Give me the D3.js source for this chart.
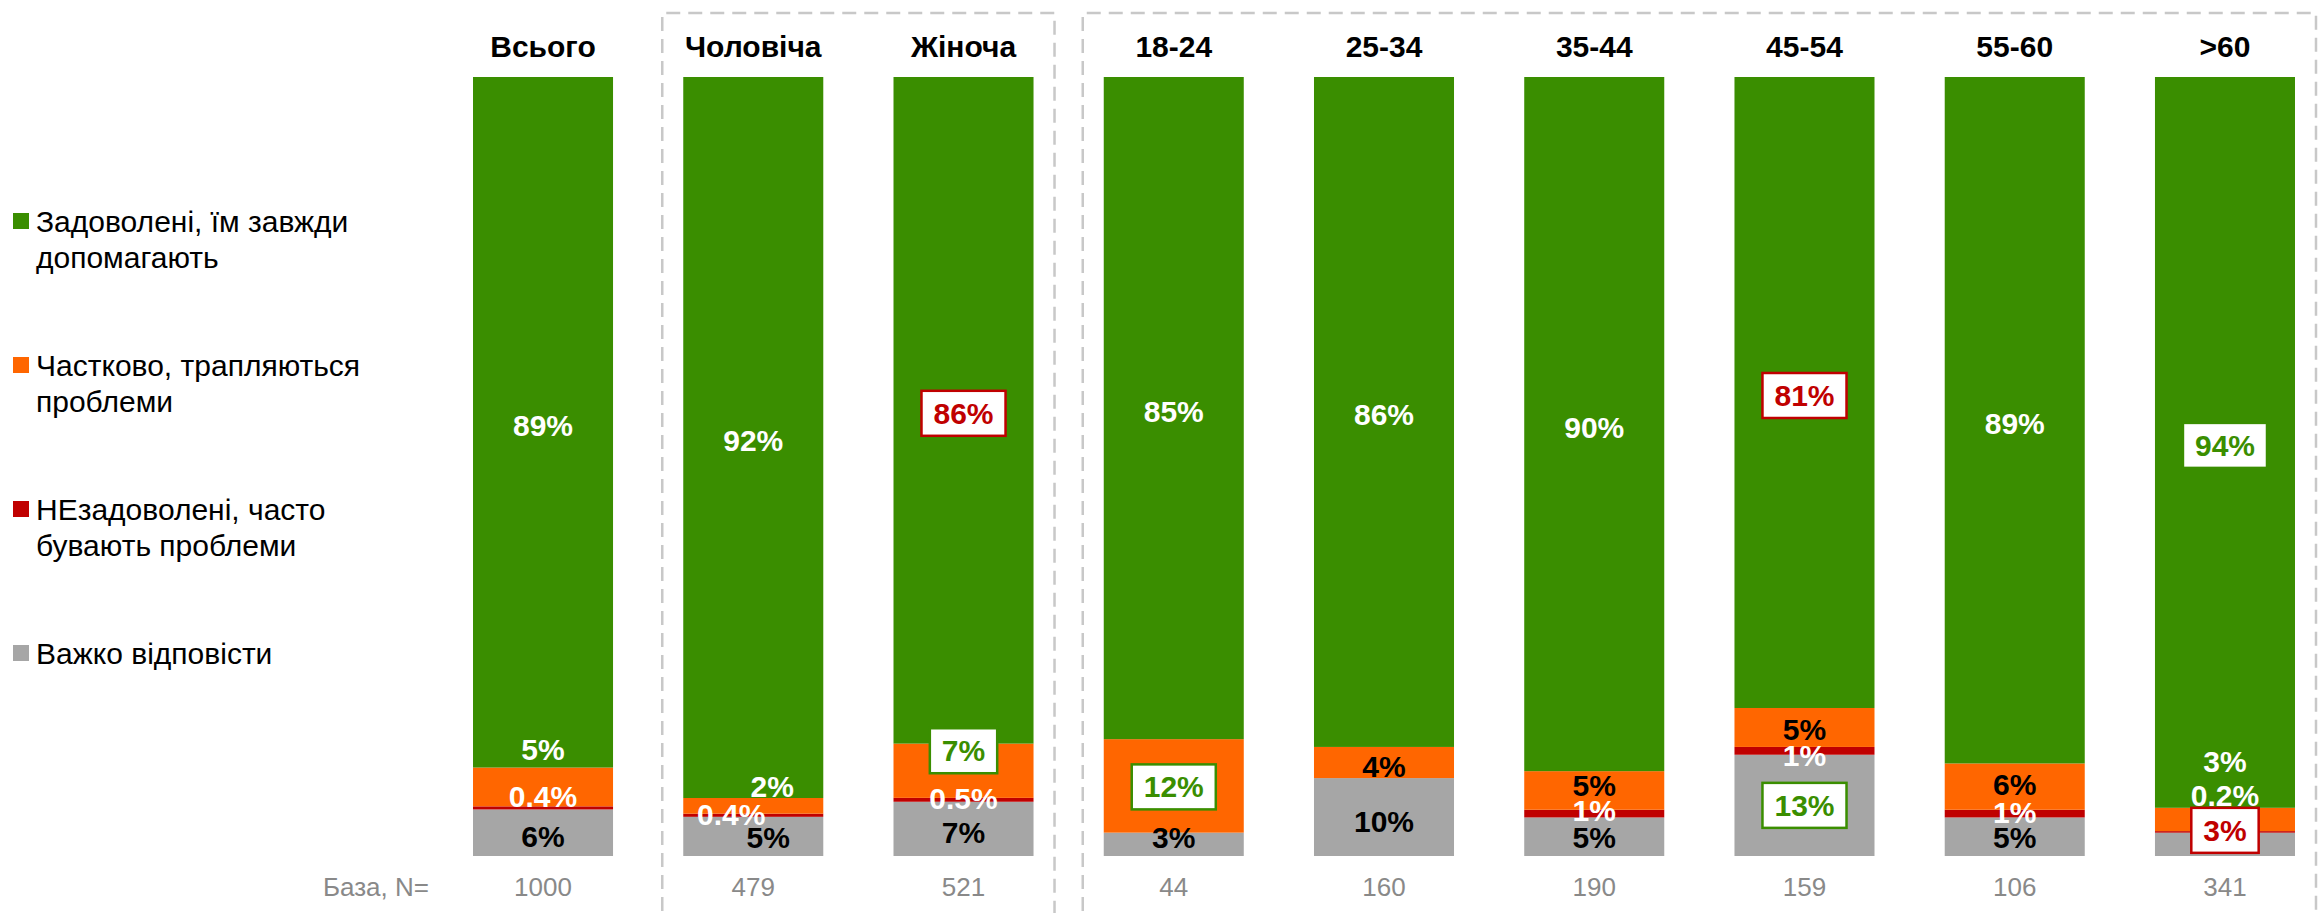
<!DOCTYPE html>
<html>
<head>
<meta charset="utf-8">
<script src="https://cdn.jsdelivr.net/npm/d3@7"></script>
<style>
	body{margin:0;background:#fff;overflow:hidden}
	text{font-family:"Liberation Sans",Arial,Helvetica,sans-serif}
</style>
</head>
<body>
<div id="chart"></div>
<script>
// categories and base sizes
var categories=["Всього","Чоловіча","Жіноча","18-24","25-34","35-44","45-54","55-60",">60"]
var baseN=[1000,479,521,44,160,190,159,106,341]

// series values, %
var satisfied=[89,92,86,85,86,90,81,89,94]
var partly=[5,2,7,12,4,5,5,6,3]
var dissatisfied=[0.4,0.4,0.5,0,0,1,1,1,0.2]
var hardToSay=[6,5,7,3,10,5,13,5,3]

// significant differences vs total: 1 higher, -1 lower
var sigSatisfied=[0,0,-1,0,0,0,-1,0,1]
var sigPartly=[0,0,1,1,0,0,0,0,0]
var sigDissatisfied=[0,0,0,0,0,0,0,0,0]
var sigHard=[0,0,0,0,0,0,1,0,-1]

var legendLabels=[["Задоволені, їм завжди","допомагають"],["Частково, трапляються","проблеми"],["НЕзадоволені, часто","бувають проблеми"],["Важко відповісти"]]
var baseTitle="База, N="

// groups framed with dashed boxes (index ranges)
var groups=[[1,2],[3,8]]

// layout
var width=2323, height=913
var keys=["hard","dis","part","sat"]
var colors={sat:"#3A8E00",part:"#FF6600",dis:"#C00000",hard:"#A6A6A6"}
var sigColor={"1":"#3A8E00","-1":"#C00000"}

// manual nudges of the data labels (dx,dy), like the hand-placed labels of the original
var labelShift={
	sat:[[0,3],[0,3],[0,3],[0,3],[0,3],[0,3],[0,3],[0,3],[0,3]],
	part:[[0,-37],[19,-19],[0,-20],[0,1],[0,4],[0,-5],[0,2],[0,-2],[0,-58]],
	dis:[[0,-11],[-22,-1],[0,-1],[0,0],[0,0],[0,-3],[0,5],[0,-1],[0,-36]],
	hard:[[0,4],[15,1],[0,4],[0,-7],[0,4],[0,1],[0,0],[0,1],[0,-14]]
}

var table=categories.map(function(c,i){
	return {cat:c,sat:satisfied[i],part:partly[i],dis:dissatisfied[i],hard:hardToSay[i],
		sig:{sat:sigSatisfied[i],part:sigPartly[i],dis:sigDissatisfied[i],hard:sigHard[i]}}
})

var series=d3.stack().keys(keys).offset(d3.stackOffsetExpand)(table)

var xScale=d3.scaleBand()
	.domain(categories)
	.range([437.9,2330.1])
	.paddingInner(0.334)
	.paddingOuter(0.167)

var yScale=d3.scaleLinear()
	.domain([0,1])
	.range([856,77])

var svg=d3.select("#chart").append("svg")
	.attr("width",width)
	.attr("height",height)

// dashed frames round the groups
groups.forEach(function(g){
	var x0=xScale(categories[g[0]])-21
	var x1=xScale(categories[g[1]])+xScale.bandwidth()+21
	svg.append("path")
		.attr("d","M"+x0+","+(height+20)+"V13H"+x1+"V"+(height+20))
		.attr("fill","none")
		.attr("stroke","#C8C8C8")
		.attr("stroke-width",2.5)
		.attr("stroke-dasharray","14,8")
})

// stacked bars
svg.selectAll(".layer")
	.data(series)
	.enter().append("g")
	.attr("class","layer")
	.attr("fill",function(d){return colors[d.key]})
	.selectAll("rect")
	.data(function(d){return d})
	.enter().append("rect")
	.attr("x",function(d){return xScale(d.data.cat)})
	.attr("y",function(d){return yScale(d[1])})
	.attr("width",xScale.bandwidth())
	.attr("height",function(d){return yScale(d[0])-yScale(d[1])})

// category headers
svg.selectAll(".head")
	.data(categories)
	.enter().append("text")
	.attr("class","head")
	.attr("x",function(d){return xScale(d)+xScale.bandwidth()/2})
	.attr("y",57)
	.attr("text-anchor","middle")
	.attr("font-size",30)
	.attr("font-weight","bold")
	.attr("fill","#000")
	.text(function(d){return d})

// base sizes
svg.selectAll(".base")
	.data(baseN)
	.enter().append("text")
	.attr("class","base")
	.attr("x",function(d,i){return xScale(categories[i])+xScale.bandwidth()/2})
	.attr("y",896)
	.attr("text-anchor","middle")
	.attr("font-size",26)
	.attr("fill","#898989")
	.text(function(d){return d})

svg.append("text")
	.attr("x",429)
	.attr("y",896)
	.attr("text-anchor","end")
	.attr("font-size",26)
	.attr("fill","#898989")
	.text(baseTitle)

// data labels
var labelLayer=svg.append("g")
series.forEach(function(s){
	s.forEach(function(d,i){
		var v=d.data[s.key]
		if(!v) return
		var sh=labelShift[s.key][i]
		var cx=xScale(d.data.cat)+xScale.bandwidth()/2+sh[0]
		var cy=(yScale(d[0])+yScale(d[1]))/2+sh[1]
		var sig=d.data.sig[s.key]
		var col
		if(sig) col=sigColor[sig]
		else if(s.key=="hard") col="#000"
		else if(s.key=="part") col=cy<yScale(d[1])?"#fff":"#000"
		else col="#fff"
		var g=labelLayer.append("g")
		var t=g.append("text")
			.attr("x",cx)
			.attr("y",cy)
			.attr("dy","0.35em")
			.attr("text-anchor","middle")
			.attr("font-size",30)
			.attr("font-weight","bold")
			.attr("fill",col)
			.text(v+"%")
		if(sig){
			var w=t.node().getComputedTextLength()+24
			g.insert("rect","text")
				.attr("x",cx-w/2)
				.attr("y",cy-22.5)
				.attr("width",w)
				.attr("height",45)
				.attr("fill","#fff")
				.attr("stroke",col)
				.attr("stroke-width",2.5)
		}
	})
})

// legend
var legendColors=[colors.sat,colors.part,colors.dis,colors.hard]
var legendY=d3.scaleLinear().domain([0,1]).range([232,376])
var legend=svg.selectAll(".legend")
	.data(legendLabels)
	.enter().append("g")
	.attr("class","legend")
	.attr("transform",function(d,i){return "translate(0,"+legendY(i)+")"})
legend.append("rect")
	.attr("x",13)
	.attr("y",-19)
	.attr("width",16)
	.attr("height",16)
	.attr("fill",function(d,i){return legendColors[i]})
legend.append("text")
	.attr("x",36)
	.attr("font-size",30)
	.attr("fill","#000")
	.selectAll("tspan")
	.data(function(d){return d})
	.enter().append("tspan")
	.attr("x",36)
	.attr("dy",function(d,i){return i?36:0})
	.text(function(d){return d})
</script>
</body>
</html>
